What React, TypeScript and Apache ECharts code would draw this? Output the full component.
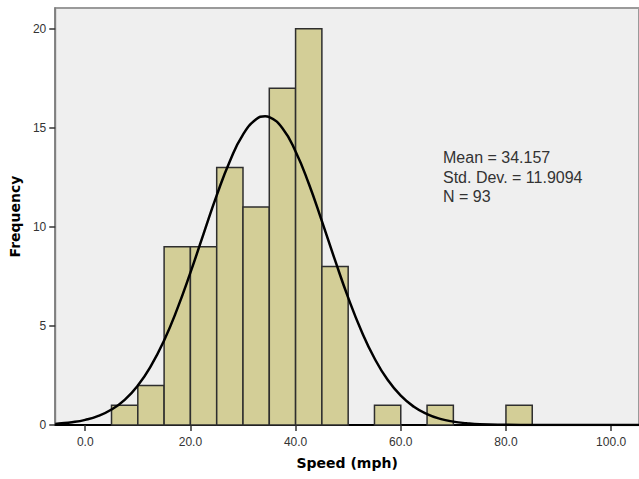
import React, { useEffect, useRef } from "react";
import * as echarts from "echarts";

// Histogram bins (lower edge, upper edge, frequency)
const binStart = [5, 10, 15, 20, 25, 30, 35, 40, 45, 55, 65, 80];
const binEnd = [10, 15, 20, 25, 30, 35, 40, 45, 50, 60, 70, 85];
const binCount = [1, 2, 9, 9, 13, 11, 17, 20, 8, 1, 1, 1];

// Fitted normal curve
const curveX = [-5.7, -5, -2.5, 0, 2.5, 5, 7.5, 10, 12.5, 15, 17.5, 20, 22.5, 25, 27.5, 30, 32.5, 34.2, 35, 37.5, 40, 42.5, 45, 47.5, 50, 52.5, 55, 57.5, 60, 62.5, 65, 67.5, 70, 72.5, 75, 80, 85, 90, 100, 105.3];
const curveY = [0.05, 0.07, 0.14, 0.26, 0.46, 0.78, 1.27, 1.99, 2.98, 4.27, 5.86, 7.69, 9.65, 11.59, 13.32, 14.66, 15.43, 15.58, 15.54, 14.98, 13.81, 12.19, 10.29, 8.32, 6.43, 4.76, 3.37, 2.28, 1.48, 0.92, 0.55, 0.31, 0.17, 0.09, 0.04, 0.01, 0.0, 0.0, 0.0, 0.0];

const xTicks = [0, 20, 40, 60, 80, 100];
const yTicks = [0, 5, 10, 15, 20];
const statLines = ["Mean = 34.157", "Std. Dev. = 11.9094", "N = 93"];

const sans = "Liberation Sans, Arial, sans-serif";
const boldFont = "DejaVu Sans, Verdana, sans-serif";

export default function App() {
  const ref = useRef<HTMLDivElement>(null);
  useEffect(() => {
    if (!ref.current) return;
    const chart = echarts.init(ref.current, undefined, { renderer: "svg" });
    const bars = binStart.map((s, i) => [s, binEnd[i], binCount[i]]);
    const curve = curveX.map((x, i) => [x, curveY[i]]);
    chart.setOption({
      animation: false,
      backgroundColor: "#ffffff",
      textStyle: { fontFamily: sans },
      grid: {
        left: 53,
        top: 8,
        right: -2,
        bottom: 54,
        show: true,
        backgroundColor: "#efefef",
        borderColor: "#9a9a9a",
        borderWidth: 2,
      },
      xAxis: {
        type: "value",
        min: -5.7,
        max: 105.3,
        name: "Speed (mph)",
        nameLocation: "middle",
        nameGap: 31,
        nameTextStyle: { fontSize: 14, fontWeight: "bold", color: "#000", fontFamily: boldFont },
        axisLine: { show: true, onZero: false, lineStyle: { color: "#000", width: 2 } },
        axisTick: { show: true, length: 6, customValues: xTicks, lineStyle: { color: "#333", width: 1.5 } },
        axisLabel: {
          customValues: xTicks,
          margin: 11,
          fontSize: 12,
          color: "#333",
          fontFamily: sans,
          formatter: (v: number) => v.toFixed(1),
        },
        splitLine: { show: false },
      },
      yAxis: {
        type: "value",
        min: 0,
        max: 21.05,
        name: "Frequency",
        nameLocation: "middle",
        nameGap: 32,
        nameTextStyle: { fontSize: 14, fontWeight: "bold", color: "#000", fontFamily: boldFont },
        axisLine: { show: true, onZero: false, lineStyle: { color: "#777", width: 1.5 } },
        axisTick: { show: true, length: 6, customValues: yTicks, lineStyle: { color: "#333", width: 1.5 } },
        axisLabel: { customValues: yTicks, margin: 9, fontSize: 12, color: "#333", fontFamily: sans },
        splitLine: { show: false },
      },
      graphic: [
        {
          type: "text",
          left: 443,
          top: 148,
          style: {
            text: statLines.join("\n"),
            fontSize: 16,
            lineHeight: 19.5,
            fill: "#333",
            fontFamily: sans,
          },
        },
      ],
      series: [
        {
          type: "custom",
          data: bars,
          encode: { x: [0, 1], y: 2 },
          renderItem: (params: any, api: any) => {
            const p0 = api.coord([api.value(0), api.value(2)]);
            const p1 = api.coord([api.value(1), 0]);
            return {
              type: "rect",
              shape: { x: p0[0], y: p0[1], width: p1[0] - p0[0], height: p1[1] - p0[1] },
              style: { fill: "#d3ce97", stroke: "#2e2e2e", lineWidth: 1.5 },
            };
          },
          z: 2,
        },
        {
          type: "line",
          data: curve,
          smooth: true,
          showSymbol: false,
          symbol: "none",
          lineStyle: { color: "#000", width: 2.5 },
          z: 3,
        },
      ],
    });
    return () => chart.dispose();
  }, []);
  return (
    <div
      ref={ref}
      style={{ position: "absolute", left: 0, top: 0, width: 639, height: 479 }}
    />
  );
}
